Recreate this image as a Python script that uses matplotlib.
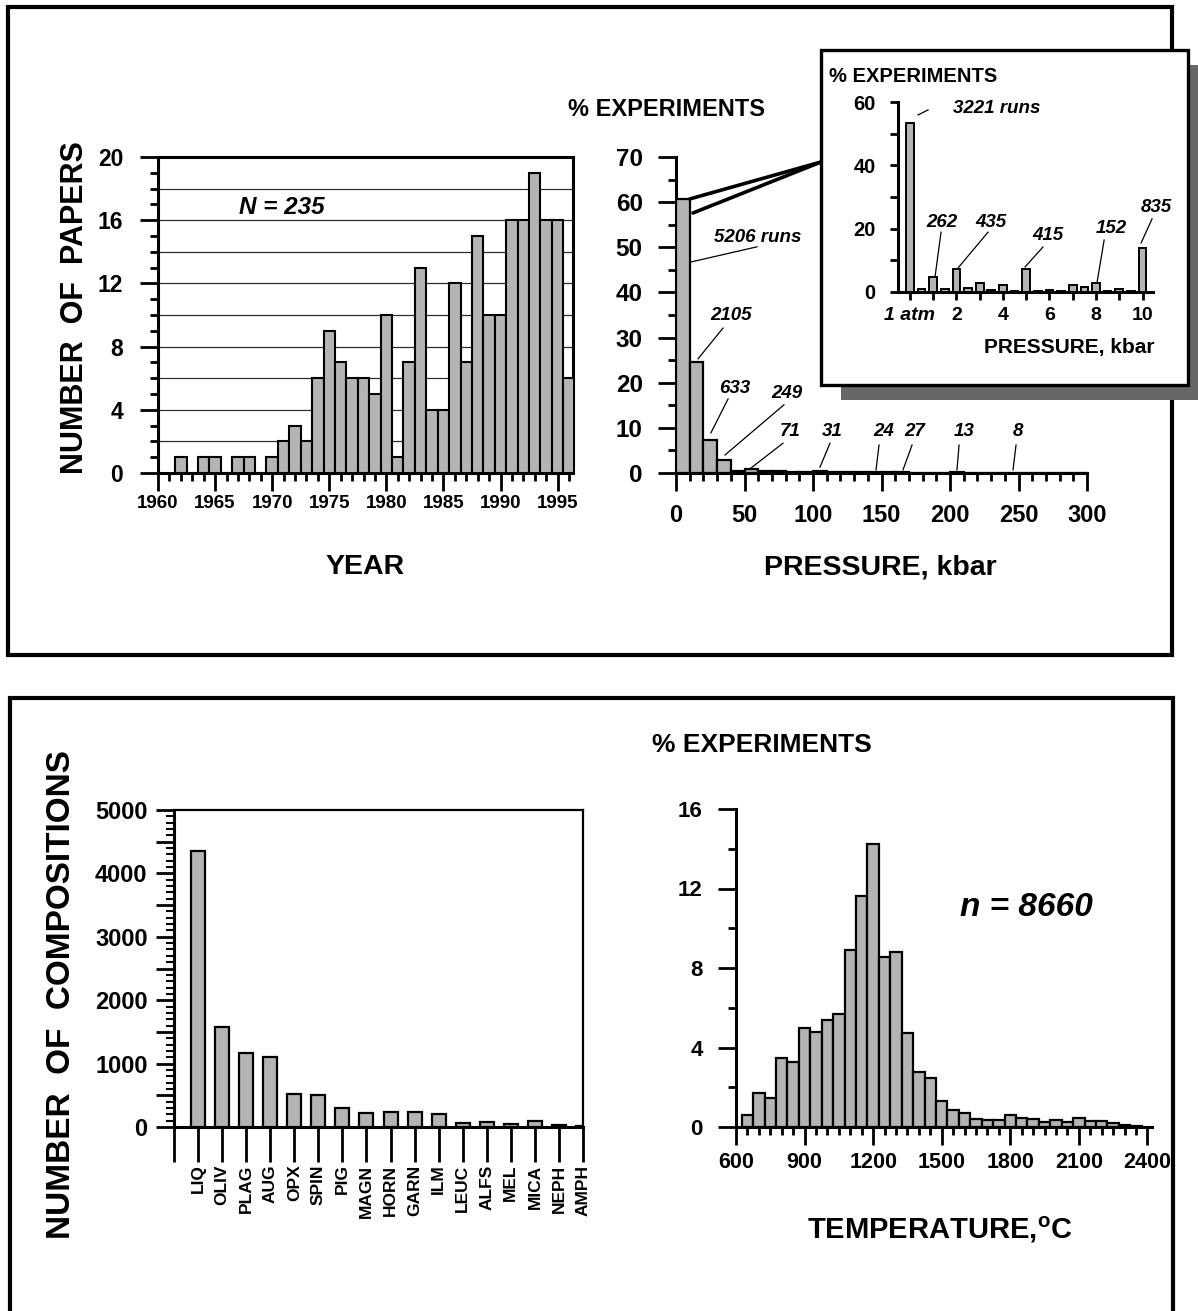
import matplotlib
matplotlib.use('Agg')
import matplotlib.pyplot as plt
from matplotlib.patches import Rectangle, ConnectionPatch
from matplotlib.ticker import MultipleLocator, FixedLocator, FuncFormatter

plt.rcParams['font.family'] = ['Liberation Sans', 'DejaVu Sans']
plt.rcParams['font.weight'] = 'bold'
plt.rcParams['mathtext.fontset'] = 'custom'
plt.rcParams['mathtext.rm'] = 'Liberation Sans:bold'
plt.rcParams['mathtext.bf'] = 'Liberation Sans:bold'
plt.rcParams['mathtext.it'] = 'Liberation Sans:bold:italic'

# ---------------- data ----------------
years = [1962, 1963, 1964, 1965, 1966, 1967, 1968, 1969, 1970, 1971, 1972, 1973,
         1974, 1975, 1976, 1977, 1978, 1979, 1980, 1981, 1982, 1983, 1984, 1985,
         1986, 1987, 1988, 1989, 1990, 1991, 1992, 1993, 1994, 1995, 1996]
papers = [1, 0, 1, 1, 0, 1, 1, 0, 1, 2, 3, 2,
          6, 9, 7, 6, 6, 5, 10, 1, 7, 13, 4, 4,
          12, 7, 15, 10, 10, 16, 16, 19, 16, 16, 6]

pressure_bin_left = [0, 10, 20, 30, 40, 50, 60, 70, 80, 90, 100, 110, 120, 130, 140,
                     150, 160, 170, 180, 190, 200, 210, 220, 230, 240, 250, 260, 270, 280, 290]
pressure_pct = [60.7, 24.6, 7.4, 2.9, 0.5, 0.82, 0.35, 0.45, 0.2, 0.2, 0.36, 0.15, 0.25, 0.2, 0.28,
                0.15, 0.31, 0.1, 0.1, 0.08, 0.15, 0.05, 0.05, 0.05, 0.09, 0.03, 0.03, 0.02, 0.02, 0.02]
pressure_runs = ['5206 runs', '2105', '633', '249', '71', '31', '24', '27', '13', '8']

inset_kbar = [0, 0.5, 1, 1.5, 2, 2.5, 3, 3.5, 4, 4.5, 5, 5.5, 6, 6.5, 7, 7.5, 8, 8.5, 9, 9.5, 10]
inset_pct = [53.5, 0.9, 4.6, 0.9, 7.4, 1.3, 2.8, 0.5, 2.1, 0.4, 7.2, 0.4, 0.6, 0.4, 2.2, 1.5,
             2.7, 0.4, 0.8, 0.4, 14.0]
inset_runs = ['3221 runs', '262', '435', '415', '152', '835']
inset_ticklabels = ['1 atm', '2', '4', '6', '8', '10']

minerals = ['LIQ', 'OLIV', 'PLAG', 'AUG', 'OPX', 'SPIN', 'PIG', 'MAGN', 'HORN', 'GARN',
            'ILM', 'LEUC', 'ALFS', 'MEL', 'MICA', 'NEPH', 'AMPH']
compositions = [4350, 1580, 1160, 1105, 515, 510, 305, 220, 237, 237,
                210, 68, 84, 53, 95, 37, 21]

temp_centers = [650, 700, 750, 800, 850, 900, 950, 1000, 1050, 1100, 1150, 1200,
                1250, 1300, 1350, 1400, 1450, 1500, 1550, 1600, 1650, 1700, 1750, 1800,
                1850, 1900, 1950, 2000, 2050, 2100, 2150, 2200, 2250, 2300, 2350]
temp_pct = [0.6, 1.7, 1.45, 3.45, 3.25, 5.0, 4.8, 5.4, 5.7, 8.9, 11.6, 14.25,
            8.55, 8.8, 4.75, 2.75, 2.45, 1.3, 0.85, 0.7, 0.4, 0.35, 0.35, 0.6,
            0.45, 0.4, 0.25, 0.35, 0.25, 0.45, 0.3, 0.32, 0.18, 0.12, 0.06]

# ---------------- layout helpers ----------------
W, H = 1198, 1311
fig = plt.figure(figsize=(W / 100, H / 100), dpi=100)
fig.patch.set_facecolor('white')


def box(l, t, r, b):
    return [l / W, 1 - b / H, (r - l) / W, (b - t) / H]


def fx(px):
    return px / W


def fy(py):
    return 1 - py / H


GRAY = '#b4b4b4'
EDGE = 'black'
SPW = 2.2
MAJ, MIN = 13, 5.8


def style_spines(ax, sides=('left', 'bottom')):
    for s in ['left', 'right', 'top', 'bottom']:
        if s in sides:
            ax.spines[s].set_linewidth(SPW)
        else:
            ax.spines[s].set_visible(False)


# ---------------- outer frames ----------------
fig.add_artist(Rectangle((fx(8), fy(655)), (1172 - 8) / W, (655 - 7) / H,
                         transform=fig.transFigure, fill=False, lw=3, ec='black', zorder=1))
fig.add_artist(Rectangle((fx(10), fy(1340)), (1173 - 10) / W, (1340 - 698) / H,
                         transform=fig.transFigure, fill=False, lw=3, ec='black', zorder=1))

# ---------------- top-left: papers per year ----------------
ax1 = fig.add_axes(box(158, 157, 573, 473))
for v in range(2, 20, 2):
    ax1.axhline(v, color='#303030', lw=0.9, zorder=1)
ax1.bar(years, papers, width=1.0, color=GRAY, edgecolor=EDGE, linewidth=1.5, zorder=3)
ax1.set_xlim(1960, 1996.35)
ax1.set_ylim(0, 20)
style_spines(ax1, ('left', 'right', 'top', 'bottom'))
ax1.xaxis.set_major_locator(MultipleLocator(5))
ax1.xaxis.set_minor_locator(MultipleLocator(1))
ax1.yaxis.set_major_locator(MultipleLocator(4))
ax1.yaxis.set_minor_locator(MultipleLocator(1))
ax1.tick_params(which='major', direction='out', length=MAJ, width=2)
ax1.tick_params(which='minor', direction='out', length=MIN, width=2)
ax1.tick_params(axis='x', labelsize=13.5, pad=3)
ax1.tick_params(axis='y', labelsize=16.5, pad=12)
fig.text(fx(282), fy(207), 'N = 235', ha='center', va='center', fontsize=17.5,
         fontweight='bold', style='italic')
fig.text(fx(75), fy(308), 'NUMBER  OF  PAPERS', rotation=90, ha='center', va='center',
         fontsize=22, fontweight='bold')
fig.text(fx(365), fy(567), 'YEAR', ha='center', va='center', fontsize=20.5, fontweight='bold')

# ---------------- top-middle: pressure ----------------
ax2 = fig.add_axes(box(676, 157, 1087, 473))
ax2.bar(pressure_bin_left, pressure_pct, width=10, align='edge', color=GRAY,
        edgecolor=EDGE, linewidth=1.6, zorder=3)
ax2.set_xlim(0, 300)
ax2.set_ylim(0, 70)
style_spines(ax2)
ax2.xaxis.set_major_locator(MultipleLocator(50))
ax2.xaxis.set_minor_locator(MultipleLocator(10))
ax2.yaxis.set_major_locator(MultipleLocator(10))
ax2.yaxis.set_minor_locator(MultipleLocator(5))
ax2.tick_params(which='major', direction='out', length=MAJ, width=2)
ax2.tick_params(which='minor', direction='out', length=MIN, width=2)
ax2.tick_params(axis='x', labelsize=17, pad=9)
ax2.tick_params(axis='y', labelsize=17.5, pad=11)
ann2 = [  # (text centre, line start, line end)
    ((59.9, 52.1), (59.1, 50.1), (10.2, 46.7)),
    ((40.1, 35.0), (34.3, 32.1), (16.1, 25.3)),
    ((43.1, 18.8), (38.0, 16.4), (25.5, 8.9)),
    ((81.0, 17.7), (78.8, 15.1), (35.8, 4.0)),
    ((83.2, 9.1), (78.1, 6.6), (54.7, 1.1)),
    ((113.9, 9.1), (112.4, 6.6), (105.1, 1.3)),
    ((151.8, 9.1), (148.2, 6.2), (146.0, 0.7)),
    ((174.5, 9.1), (172.3, 6.2), (165.7, 0.7)),
    ((210.2, 9.1), (206.6, 6.2), (205.1, 0.7)),
    ((249.6, 9.1), (248.2, 6.2), (246.0, 0.7)),
]
for label, (tp, p1, p2) in zip(pressure_runs, ann2):
    ax2.text(tp[0], tp[1], label, ha='center', va='center', fontsize=13.5,
             fontweight='bold', style='italic', zorder=5)
    ax2.plot([p1[0], p2[0]], [p1[1], p2[1]], color='black', lw=0.9, clip_on=False, zorder=5)
fig.text(fx(667), fy(110), '% EXPERIMENTS', ha='center', va='center', fontsize=17,
         fontweight='bold')
fig.text(fx(880), fy(567), 'PRESSURE, kbar', ha='center', va='center', fontsize=20.5,
         fontweight='bold')

# zoom lines to the inset
for xa, ya in [(10, 60.7), (12.4, 57.6)]:
    cp = ConnectionPatch(xyA=(xa, ya), coordsA=ax2.transData,
                         xyB=(fx(821), fy(162)), coordsB=fig.transFigure,
                         color='black', lw=2.6, zorder=4)
    fig.add_artist(cp)

# ---------------- inset ----------------
fig.add_artist(Rectangle((fx(841), fy(400)), (1210 - 841) / W, (400 - 65) / H,
                         transform=fig.transFigure, fc='#676767', ec='none', zorder=5))
fig.add_artist(Rectangle((fx(821), fy(385)), (1188 - 821) / W, (385 - 50) / H,
                         transform=fig.transFigure, fc='white', ec='black', lw=2.4, zorder=6))
ax3 = fig.add_axes(box(898, 102, 1153, 292))
ax3.set_zorder(7)
ax3.patch.set_alpha(0)
ax3.bar(inset_kbar, inset_pct, width=0.33, color=GRAY, edgecolor=EDGE, linewidth=1.4, zorder=3)
ax3.set_xlim(-0.51, 10.45)
ax3.set_ylim(0, 60)
style_spines(ax3)
ax3.set_xticks([0, 2, 4, 6, 8, 10], labels=inset_ticklabels)
ax3.get_xticklabels()[0].set_fontstyle('italic')
ax3.xaxis.set_minor_locator(FixedLocator([1, 3, 5, 7, 9]))
ax3.yaxis.set_major_locator(MultipleLocator(20))
ax3.yaxis.set_minor_locator(MultipleLocator(10))
ax3.tick_params(which='both', direction='out', length=6, width=2)
ax3.tick_params(axis='x', labelsize=14, pad=5)
ax3.tick_params(axis='y', labelsize=14.5, pad=10)
ann3 = [
    ((3.74, 58.1), (0.35, 55.9), (0.78, 57.5)),
    ((1.38, 22.1), (1.34, 18.9), (1.08, 4.7)),
    ((3.49, 22.1), (3.36, 18.9), (2.07, 7.6)),
    ((5.94, 18.0), (5.72, 14.2), (4.95, 7.9)),
    ((8.65, 19.9), (8.35, 16.4), (8.04, 2.8)),
    ((10.58, 26.8), (10.41, 23.1), (9.94, 15.5)),
]
for label, (tp, p1, p2) in zip(inset_runs, ann3):
    ax3.text(tp[0], tp[1], label, ha='center', va='center', fontsize=13.5,
             fontweight='bold', style='italic', clip_on=False)
    ax3.plot([p1[0], p2[0]], [p1[1], p2[1]], color='black', lw=0.9, clip_on=False)
fig.text(fx(829), fy(77), '% EXPERIMENTS', ha='left', va='center', fontsize=14.5,
         fontweight='bold', zorder=8)
fig.text(fx(1155), fy(348), 'PRESSURE, kbar', ha='right', va='center', fontsize=15,
         fontweight='bold', zorder=8)

# ---------------- bottom-left: compositions ----------------
ax4 = fig.add_axes(box(174, 810, 583, 1127))
ax4.bar(range(1, len(minerals) + 1), compositions, width=0.58, color=GRAY,
        edgecolor=EDGE, linewidth=1.6, zorder=3)
ax4.set_xlim(0, 17.0)
ax4.set_ylim(0, 5000)
style_spines(ax4, ('left', 'right', 'top', 'bottom'))
ax4.spines['top'].set_linewidth(1.6)
ax4.spines['right'].set_linewidth(1.6)
ax4.set_xticks(range(0, len(minerals) + 1), labels=[''] + minerals, rotation=90)
ax4.yaxis.set_major_locator(MultipleLocator(500))
ax4.yaxis.set_minor_locator(MultipleLocator(100))
ax4.yaxis.set_major_formatter(FuncFormatter(lambda v, p: f'{int(v)}' if int(v) % 1000 == 0 else ''))
ax4.tick_params(axis='y', which='major', direction='out', length=MAJ, width=2,
                labelsize=17, pad=6)
ax4.tick_params(axis='y', which='minor', direction='out', length=MIN, width=1.5)
ax4.tick_params(axis='x', direction='out', length=25, width=2, labelsize=12.5, pad=2)
fig.text(fx(62), fy(995), 'NUMBER  OF  COMPOSITIONS', rotation=90, ha='center',
         va='center', fontsize=24, fontweight='bold')

# ---------------- bottom-right: temperature ----------------
ax5 = fig.add_axes(box(736, 809, 1152, 1127))
ax5.bar(temp_centers, temp_pct, width=50, color=GRAY, edgecolor=EDGE, linewidth=1.6, zorder=3)
ax5.set_xlim(600, 2420)
ax5.set_ylim(0, 16)
style_spines(ax5)
ax5.set_xticks([600, 900, 1200, 1500, 1800, 2100, 2400])
ax5.xaxis.set_minor_locator(MultipleLocator(50))
ax5.yaxis.set_major_locator(MultipleLocator(4))
ax5.yaxis.set_minor_locator(MultipleLocator(2))
ax5.tick_params(which='major', direction='out', length=MAJ, width=2)
ax5.tick_params(which='minor', direction='out', length=MIN, width=2)
ax5.tick_params(axis='x', labelsize=15.5, pad=5)
ax5.tick_params(axis='y', labelsize=16, pad=11)
fig.text(fx(1026), fy(907), 'n = 8660', ha='center', va='center', fontsize=24,
         fontweight='bold', style='italic')
fig.text(fx(762), fy(745), '% EXPERIMENTS', ha='center', va='center', fontsize=19,
         fontweight='bold')
fig.text(fx(940), fy(1230), r'TEMPERATURE,$^{\mathrm{o}}$C', ha='center', va='center',
         fontsize=21, fontweight='bold')

fig.savefig('out.png', dpi=100, facecolor='white')
